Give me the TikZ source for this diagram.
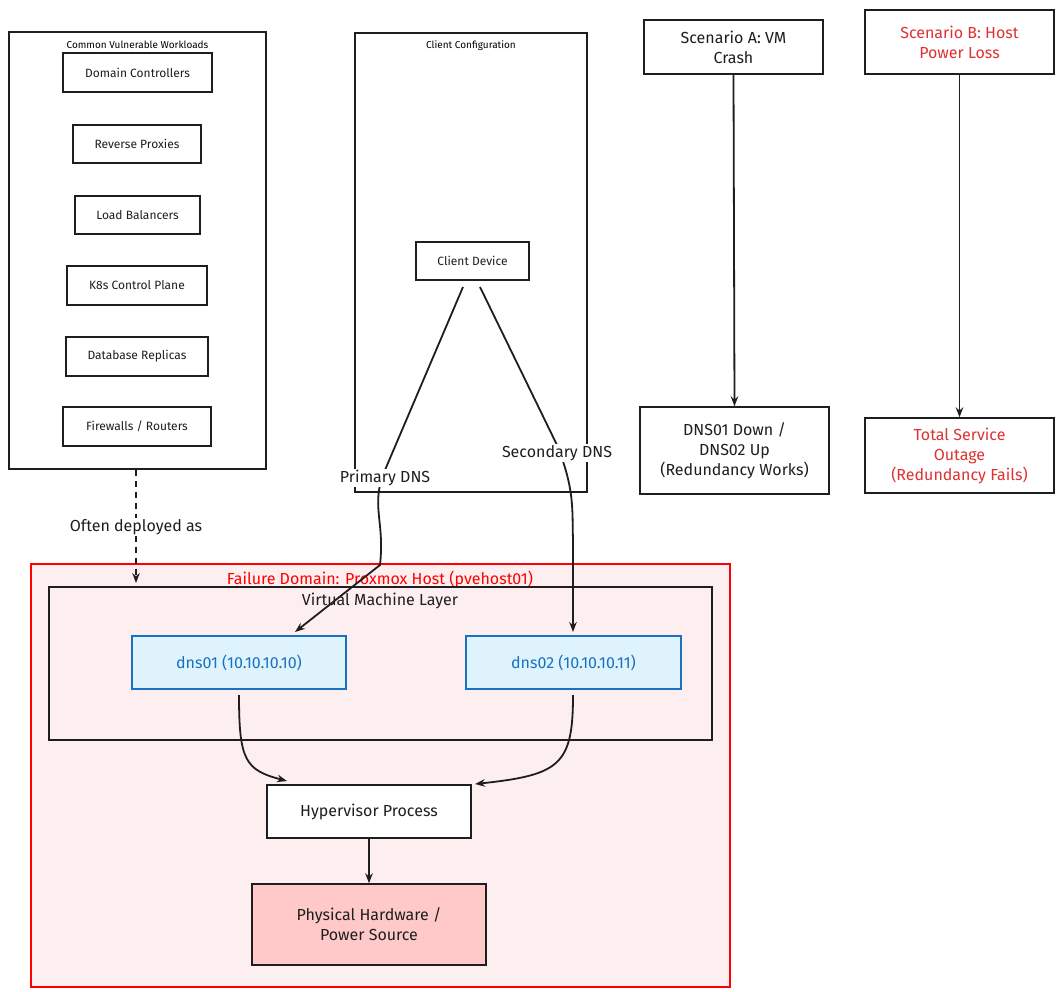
\documentclass[tikz,border=0pt]{standalone}
\usepackage{fontspec}
\setmainfont{Fira Sans}
\usetikzlibrary{arrows.meta}
\definecolor{rd}{HTML}{E03131}
\definecolor{bl}{HTML}{1971C2}
\definecolor{blfill}{HTML}{DFF3FC}
\definecolor{pk}{HTML}{FDEFEF}
\definecolor{hw}{HTML}{FFC9C9}
\definecolor{ink}{HTML}{1E1E1E}
\begin{document}
\begin{tikzpicture}[x=1pt,y=-1pt,
  box/.style={draw=ink,line width=1.4pt,fill=white,inner sep=0pt,align=center,font=\fontsize{16}{20}\selectfont,text=ink},
  sbox/.style={box,font=\fontsize{12}{14}\selectfont},
  arr/.style={draw=ink,line width=1.8pt,-{Stealth[length=10pt]}},
  lbl/.style={font=\fontsize{16}{20}\selectfont,text=ink,fill=white,inner sep=1pt}]
\useasboundingbox (0,0) rectangle (1060,991);
\fill[white] (0,0) rectangle (1060,991);
% left group
\node[box,minimum width=257pt,minimum height=437pt] (wl) at (137.5,250.5) {};
\node[font=\fontsize{10}{12}\selectfont,anchor=north] at (137.5,37) {Common Vulnerable Workloads};
\node[sbox,minimum width=149pt,minimum height=39pt] (dc) at (137.5,72.5) {Domain Controllers};
\node[sbox,minimum width=128pt,minimum height=38pt] (rp) at (137,144) {Reverse Proxies};
\node[sbox,minimum width=125pt,minimum height=38pt] (lb) at (137.5,215) {Load Balancers};
\node[sbox,minimum width=140pt,minimum height=39pt] (k8) at (137,285.5) {K8s Control Plane};
\node[sbox,minimum width=142pt,minimum height=39pt] (db) at (137,356.5) {Database Replicas};
\node[sbox,minimum width=148pt,minimum height=39pt] (fw) at (137,426.5) {Firewalls / Routers};
% client config
\node[box,minimum width=232pt,minimum height=459pt] (cc) at (471,262.5) {};
\node[font=\fontsize{10}{12}\selectfont,anchor=north] at (471,37) {Client Configuration};
\node[sbox,minimum width=113pt,minimum height=38pt] (cd) at (472.5,261) {Client Device};
% scenarios
\node[box,minimum width=179pt,minimum height=54pt] (sa) at (733.5,47) {Scenario A: VM\\Crash};
\node[box,minimum width=189pt,minimum height=87pt] (ra) at (734.5,450.5) {DNS01 Down /\\DNS02 Up\\(Redundancy Works)};
\node[box,minimum width=189pt,minimum height=64pt,text=rd] (sb) at (959.5,42) {Scenario B: Host\\Power Loss};
\node[box,minimum width=189pt,minimum height=75pt,text=rd] (rb) at (959.5,455.5) {Total Service\\Outage\\(Redundancy Fails)};
\draw[arr] (sa.south) -- (ra.north);
\draw[arr] (sb.south) -- (rb.north);
% failure domain
\node[draw=red,line width=1.4pt,fill=pk,minimum width=699pt,minimum height=423pt,inner sep=0pt] (fd) at (380.5,775.5) {};
\node[text=red,font=\fontsize{16}{20}\selectfont] at (380,579) {Failure Domain: Proxmox Host (pvehost01)};
\node[draw=ink,line width=1.4pt,minimum width=663pt,minimum height=153pt,inner sep=0pt] (vm) at (380.5,663.5) {};
\node[font=\fontsize{16}{20}\selectfont,text=ink] at (380,601) {Virtual Machine Layer};
\node[box,draw=bl,fill=blfill,text=bl,minimum width=214pt,minimum height=53pt] (d1) at (239,662.5) {dns01 (10.10.10.10)};
\node[box,draw=bl,fill=blfill,text=bl,minimum width=215pt,minimum height=53pt] (d2) at (573.5,662.5) {dns02 (10.10.10.11)};
\node[box,minimum width=204pt,minimum height=53pt] (hv) at (369,811.5) {Hypervisor Process};
\node[box,fill=hw,minimum width=234pt,minimum height=81pt] (ph) at (369,924.5) {Physical Hardware /\\Power Source};
% connectors
\coordinate (c1) at (463,287);
\coordinate (c2) at (480,287);
\draw[arr] (c1) -- (385,470) .. controls (370,505) and (385,520) .. (380,565) -- (295,632);
\node[lbl] at (385,478) {Primary DNS};
\draw[arr] (c2) -- (557,445) .. controls (575,490) and (572,510) .. (573,540) -- (573,632);
\node[lbl] at (557,453) {Secondary DNS};
\draw[arr] (239,695) .. controls (239,760) and (245,770) .. (287,781);
\draw[arr] (573,695) .. controls (573,765) and (560,775) .. (475,784);
\draw[arr] (hv.south) -- (ph.north);
\draw[draw=ink,line width=1.6pt,dash pattern=on 6pt off 5pt,-{Stealth[length=10pt]}] (wl.south -| 136,0) -- (136,583);
\node[lbl] at (136,527) {Often deployed as};
\end{tikzpicture}
\end{document}
